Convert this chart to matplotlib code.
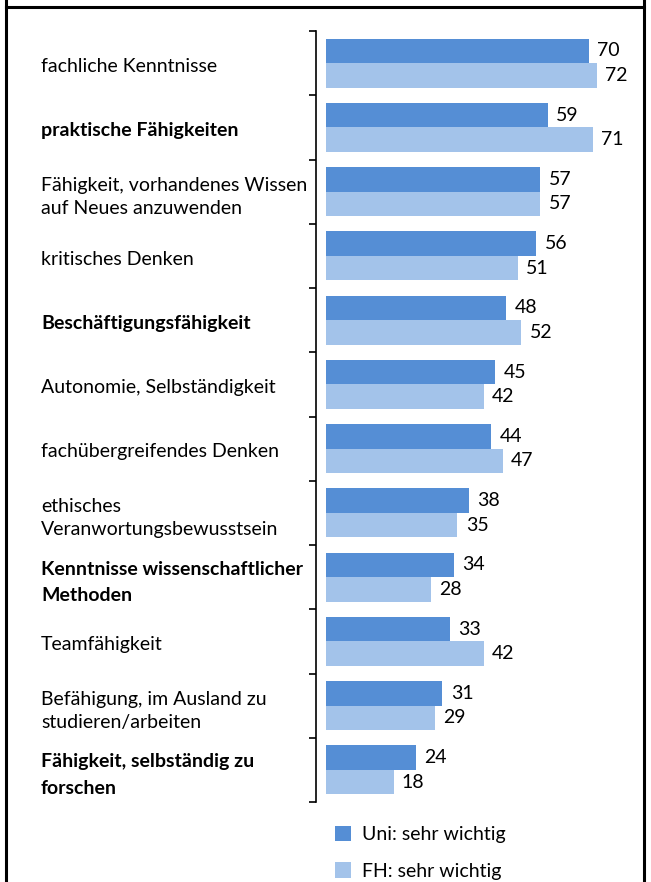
import matplotlib
matplotlib.use('Agg')
from matplotlib import pyplot as plt
from matplotlib import transforms
from matplotlib.lines import Line2D

# Daten
kategorien = ['fachliche Kenntnisse',
              'praktische Fähigkeiten',
              'Fähigkeit, vorhandenes Wissen\nauf Neues anzuwenden',
              'kritisches Denken',
              'Beschäftigungsfähigkeit',
              'Autonomie, Selbständigkeit',
              'fachübergreifendes Denken',
              'ethisches\nVeranwortungsbewusstsein',
              'Kenntnisse wissenschaftlicher\nMethoden',
              'Teamfähigkeit',
              'Befähigung, im Ausland zu\nstudieren/arbeiten',
              'Fähigkeit, selbständig zu\nforschen']
fett = [False, True, False, False, True, False, False, False, True, False, False, True]
uni = [70, 59, 57, 56, 48, 45, 44, 38, 34, 33, 31, 24]
fh = [72, 71, 57, 51, 52, 42, 47, 35, 28, 42, 29, 18]
serien = ['Uni: sehr wichtig', 'FH: sehr wichtig']

plt.rcParams['font.family'] = ['Lato', 'DejaVu Sans']

W, H = 651, 882
fig = plt.figure(figsize=(W / 100, H / 100), dpi=100)

# Achsenbereich in Pixeln
x0, x1 = 326, 640
y_top, y_bot = 31, 802
ax = fig.add_axes([x0 / W, 1 - y_bot / H, (x1 - x0) / W, (y_bot - y_top) / H])

px_per_unit = 3.757
ax.set_xlim(0, (x1 - x0) / px_per_unit)
ax.set_ylim(len(kategorien) - 0.5, -0.5)

pos = list(range(len(kategorien)))
h = 0.38
c_uni = '#558ed5'
c_fh = '#a3c3ea'
b1 = ax.barh([p - h / 2 for p in pos], uni, height=h, color=c_uni, label=serien[0])
b2 = ax.barh([p + h / 2 for p in pos], fh, height=h, color=c_fh, label=serien[1])

fs = 14
for bars, vals in ((b1, uni), (b2, fh)):
    for b, v in zip(bars, vals):
        ax.annotate(str(v), (v, b.get_y() + b.get_height() / 2),
                    xytext=(6, 0), textcoords='offset points',
                    va='center', ha='left', fontsize=fs)

# Achsen formatieren
for s in ('top', 'right', 'bottom'):
    ax.spines[s].set_visible(False)
ax.spines['left'].set_position(('outward', 7))
ax.spines['left'].set_linewidth(1.2)
ax.set_xticks([])
ax.set_yticks([p + 0.5 for p in range(-1, len(kategorien))])
ax.set_yticklabels([])
ax.tick_params(axis='y', direction='out', length=5, width=1.2)

# Kategorienamen
trans = transforms.blended_transform_factory(fig.transFigure, ax.transData)
for p, name, b in zip(pos, kategorien, fett):
    zwei = '\n' in name
    ax.text(41 / W, p + (0.08 if zwei else 0.05), name, transform=trans,
            ha='left', va='center', fontsize=fs,
            fontweight='bold' if b else 'normal',
            linespacing=1.68 if b else 1.42)

# Legende
ax.legend(loc='upper left', bbox_to_anchor=(327 / W, 1 - 818 / H),
          bbox_transform=fig.transFigure, frameon=False, fontsize=fs,
          handlelength=0.85, handleheight=0.85, handletextpad=0.55,
          labelspacing=0.97, borderaxespad=0)

# Rahmen
lw = 2.2
fig.add_artist(Line2D([5.5 / W, 5.5 / W], [0, 1], transform=fig.transFigure, color='black', lw=lw))
fig.add_artist(Line2D([644 / W, 644 / W], [0, 1], transform=fig.transFigure, color='black', lw=lw))
fig.add_artist(Line2D([5.5 / W, 644 / W], [1 - 6.5 / H, 1 - 6.5 / H], transform=fig.transFigure, color='black', lw=lw))

plt.savefig('out.png', dpi=100)
